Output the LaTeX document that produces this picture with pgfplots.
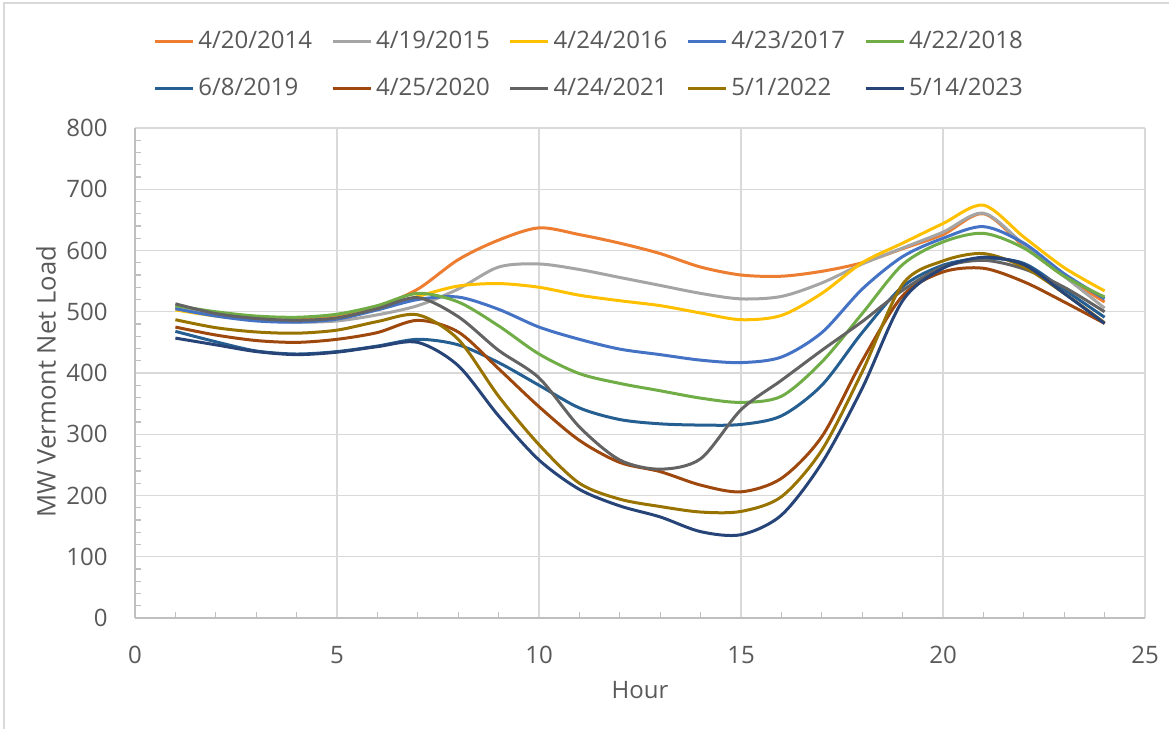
\documentclass[border=0pt]{standalone}
\usepackage{fontspec}
\setmainfont{Open Sans}
\usepackage{pgfplots}
\usepackage{pgfplotstable}
\pgfplotsset{compat=1.18}

\definecolor{c14}{HTML}{ED7D31}
\definecolor{c15}{HTML}{A5A5A5}
\definecolor{c16}{HTML}{FFC000}
\definecolor{c17}{HTML}{4472C4}
\definecolor{c18}{HTML}{70AD47}
\definecolor{c19}{HTML}{255E91}
\definecolor{c20}{HTML}{9E480E}
\definecolor{c21}{HTML}{636363}
\definecolor{c22}{HTML}{997300}
\definecolor{c23}{HTML}{264478}
\definecolor{txt}{HTML}{595959}
\definecolor{gridc}{HTML}{D9D9D9}
\definecolor{axc}{HTML}{BFBFBF}

% hourly net load, MW
\pgfplotstableread{
h  y14 y15 y16 y17 y18 y19 y20 y21 y22 y23
1  507 508 503 505 510 468 475 513 487 457
2  495 495 493 493 500 451 462 497 474 446
3  488 487 487 485 493 436 453 489 467 435
4  487 483 485 483 491 431 450 486 465 430
5  492 485 490 488 496 435 455 490 470 434
6  508 495 505 503 510 444 466 505 484 443
7  537 510 525 520 530 455 486 523 495 450
8  585 537 542 524 516 446 467 492 455 412
9  617 573 546 504 477 417 407 437 362 330
10 637 578 540 475 431 380 345 392 283 258
11 626 569 527 455 399 343 290 312 220 210
12 612 556 518 439 383 324 254 258 194 183
13 595 543 510 430 371 317 239 243 182 165
14 573 530 498 421 359 315 217 260 173 141
15 560 521 487 417 352 316 206 340 174 136
16 558 525 494 426 362 330 228 388 198 168
17 566 547 530 466 418 380 296 437 274 253
18 580 578 580 537 497 466 420 484 402 375
19 603 604 612 590 577 541 526 535 545 518
20 626 630 644 620 614 576 565 573 583 571
21 660 661 674 639 628 587 571 584 595 589
22 607 610 622 612 604 579 549 570 573 577
23 558 558 572 562 558 536 516 540 530 530
24 516 506 534 521 524 491 481 500 482 481
}\data

\begin{document}
\begin{tikzpicture}[font=\fontsize{12}{14}\selectfont]
\path[use as bounding box] (0,0) rectangle (584.5pt,364.5pt);
\draw[gridc, line width=0.8pt] (2pt,0) -- (2pt,363pt) -- (584.5pt,363pt);
\begin{axis}[
  at={(67.5pt,55.5pt)}, anchor=south west,
  scale only axis, width=505pt, height=245pt,
  xmin=0, xmax=25, ymin=0, ymax=800,
  xtick={0,5,...,25}, ytick={0,100,...,800},
  minor x tick num=4, minor y tick num=4,
  tick align=inside,
  major tick length=0pt, minor tick length=3.2pt,
  axis x line*=bottom, axis y line*=left,
  axis line style={-, draw=axc, line width=0.8pt},
  every tick/.style={draw=axc, line width=0.6pt},
  grid=major,
  major grid style={draw=gridc, line width=0.7pt},
  /pgf/number format/assume math mode=true,
  ticklabel style={text=txt, inner sep=0pt, font=\fontsize{12}{14}\selectfont},
  xticklabel style={anchor=base, yshift=-22.5pt},
  yticklabel style={anchor=east, xshift=-13.5pt},
  xlabel={Hour}, ylabel={MW Vermont Net Load},
  label style={text=txt, font=\fontsize{12}{14}\selectfont},
  xlabel style={at={(axis description cs:0.5,-0.147)}, anchor=center},
  ylabel style={at={(axis description cs:-0.088,0.482)}, anchor=center,
    font=\fontsize{12.8}{15}\selectfont},
  legend columns=5,
  legend cell align=left,
  legend image code/.code={\draw[#1, line width=1.5pt] (0pt,0pt) -- (19pt,0pt);},
  legend style={at={(axis description cs:0.0178,1.199)}, anchor=north west,
    draw=none, fill=none, inner sep=0pt, row sep=13.6pt,
    font=\fontsize{12}{14}\selectfont, text=txt,
    nodes={inner sep=0pt},
    /tikz/every odd column/.append style={column sep=2pt},
    /tikz/every even column/.append style={column sep=9.5pt}},
  every axis plot/.append style={line width=1.5pt, smooth},
]
\addplot[c14] table[x=h, y=y14] {\data};
\addplot[c15] table[x=h, y=y15] {\data};
\addplot[c16] table[x=h, y=y16] {\data};
\addplot[c17] table[x=h, y=y17] {\data};
\addplot[c18] table[x=h, y=y18] {\data};
\addplot[c19] table[x=h, y=y19] {\data};
\addplot[c20] table[x=h, y=y20] {\data};
\addplot[c21] table[x=h, y=y21] {\data};
\addplot[c22] table[x=h, y=y22] {\data};
\addplot[c23] table[x=h, y=y23] {\data};
\legend{4/20/2014, 4/19/2015, 4/24/2016, 4/23/2017, 4/22/2018,
  6/8/2019, 4/25/2020, 4/24/2021, 5/1/2022, 5/14/2023}
\end{axis}
\end{tikzpicture}
\end{document}
